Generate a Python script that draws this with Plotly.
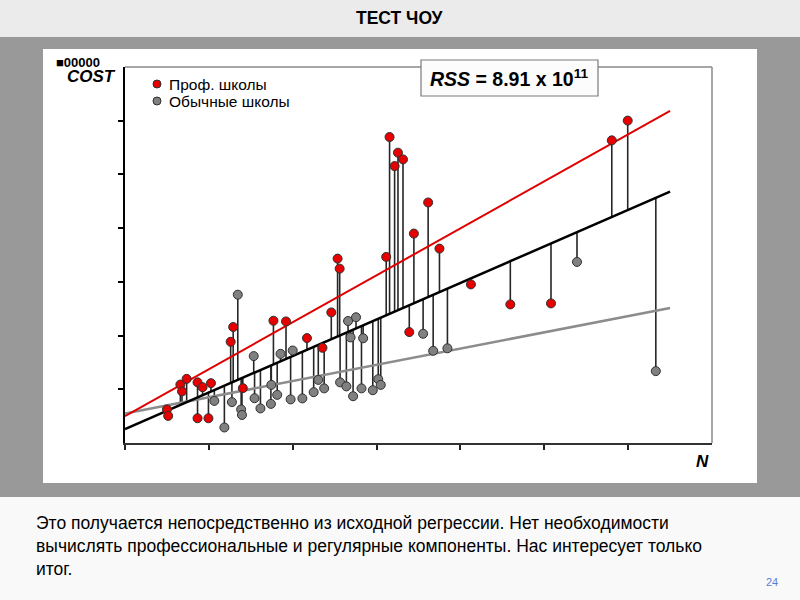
import plotly.graph_objects as go

# ---- data (N = number of students, COST) ----
prof_n = [100, 103, 132, 136, 147, 173, 185, 205, 173, 199, 252, 258, 281, 354, 384,
          434, 471, 492, 507, 512, 623, 631, 643, 651, 663, 678, 689, 723, 750, 825,
          919, 1016, 1161, 1199]
prof_cost = [62500, 50400, 108800, 96100, 119400, 112900, 103900, 111400, 46100, 46100,
             188400, 215900, 102100, 227600, 226300, 195300, 177200, 243100, 343300, 324600,
             346500, 569600, 515500, 540500, 528000, 206500, 389900, 447800, 361900, 295300,
             258000, 259900, 563400, 600200]

reg_n = [237, 213, 255, 269, 277, 279, 307, 309, 323, 348, 349, 363, 371, 395, 400,
         423, 450, 461, 475, 513, 528, 532, 551, 538, 544, 564, 568, 591, 604, 610,
         711, 735, 769, 1078, 1266]
reg_cost = [28900, 78400, 76100, 276100, 62500, 52200, 161800, 83400, 64400, 72800,
            108200, 89600, 166000, 81200, 172200, 83000, 94600, 117500, 101700, 112900,
            105400, 227100, 234100, 196600, 87100, 101700, 195000, 98300, 118800, 108200,
            203400, 171600, 176300, 337100, 133800]

# regression lines: (intercept, slope)
line_prof = (50000, 437.0)
line_reg = (55000, 151.0)
line_pool = (26000, 340.0)
line_n = [0, 1300]

x_ticks = [0, 200, 400, 600, 800, 1000, 1200]
y_ticks = [100000, 200000, 300000, 400000, 500000, 600000]

def fit(line, n):
    return [line[0] + line[1] * v for v in n]

# ---- residual segments to pooled line ----
seg_x, seg_y = [], []
for n, c in list(zip(prof_n, prof_cost)) + list(zip(reg_n, reg_cost)):
    seg_x += [n, n, None]
    seg_y += [c, line_pool[0] + line_pool[1] * n, None]

fig = go.Figure()
fig.add_trace(go.Scatter(x=seg_x, y=seg_y, mode="lines",
                         line=dict(color="#262626", width=1.6), showlegend=False, hoverinfo="skip"))
fig.add_trace(go.Scatter(x=line_n, y=fit(line_reg, line_n), mode="lines",
                         line=dict(color="#8c8c8c", width=2.5), showlegend=False))
fig.add_trace(go.Scatter(x=line_n, y=fit(line_pool, line_n), mode="lines",
                         line=dict(color="#000000", width=2.5), showlegend=False))
fig.add_trace(go.Scatter(x=line_n, y=fit(line_prof, line_n), mode="lines",
                         line=dict(color="#e00000", width=2), showlegend=False))
fig.add_trace(go.Scatter(x=reg_n, y=reg_cost, mode="markers", name="Обычные школы",
                         marker=dict(color="#808080", size=9, line=dict(color="#303030", width=1)),
                         showlegend=False))
fig.add_trace(go.Scatter(x=prof_n, y=prof_cost, mode="markers", name="Проф. школы",
                         marker=dict(color="#e60000", size=9, line=dict(color="#303030", width=1)),
                         showlegend=False))

# ---- pixel -> paper helpers for slide decoration ----
L, R, T, B = 125, 712, 67, 443
def px(x):
    return (x - L) / (R - L)
def py(y):
    return (B - y) / (B - T)

shapes = [
    dict(type="rect", xref="paper", yref="paper", x0=px(-5), x1=px(805), y0=py(-5), y1=py(37),
         fillcolor="#ebebeb", line=dict(width=0), layer="below"),
    dict(type="rect", xref="paper", yref="paper", x0=px(-5), x1=px(805), y0=py(497), y1=py(605),
         fillcolor="#f9f9f9", line=dict(width=0), layer="below"),
    dict(type="rect", xref="paper", yref="paper", x0=px(43), x1=px(757), y0=py(483), y1=py(49),
         fillcolor="#ffffff", line=dict(width=0), layer="below"),
    # top and right frame lines
    dict(type="line", xref="paper", yref="paper", x0=0, x1=1, y0=1, y1=1,
         line=dict(color="#8a8a8a", width=1.5), layer="above"),
    dict(type="line", xref="paper", yref="paper", x0=1, x1=1, y0=0, y1=1,
         line=dict(color="#8a8a8a", width=1.5), layer="above"),
    # RSS box
    dict(type="rect", xref="paper", yref="paper", x0=px(421), x1=px(598), y0=py(96), y1=py(60),
         fillcolor="#fcfcfc", line=dict(color="#7a7a7a", width=1.2), layer="above"),
    # legend dots
    dict(type="circle", xref="paper", yref="paper", x0=px(153), x1=px(161), y0=py(88), y1=py(80),
         fillcolor="#e60000", line=dict(color="#303030", width=1), layer="above"),
    dict(type="circle", xref="paper", yref="paper", x0=px(153), x1=px(161), y0=py(105), y1=py(97),
         fillcolor="#808080", line=dict(color="#303030", width=1), layer="above"),
]

FONT = "Liberation Sans, Arial, sans-serif"
ann = [
    dict(x=px(400), y=py(18), text="<b>ТЕСТ ЧОУ</b>", font=dict(size=17.5, color="#000", family=FONT)),
    dict(x=px(509), y=py(78), text="<b><i>RSS</i> = 8.91 x 10<sup>11</sup></b>",
         font=dict(size=19.5, color="#000", family=FONT)),
    dict(x=px(167), y=py(84), text="Проф. школы", xanchor="left",
         font=dict(size=15.5, color="#000", family=FONT)),
    dict(x=px(167), y=py(101), text="Обычные школы", xanchor="left",
         font=dict(size=15.5, color="#000", family=FONT)),
    dict(x=px(54), y=py(63), text="<b>■00000</b>", xanchor="left",
         font=dict(size=13, color="#000", family=FONT)),
    dict(x=px(65), y=py(77), text="<b><i>COST</i></b>", xanchor="left",
         font=dict(size=17, color="#000", family=FONT)),
    dict(x=px(702), y=py(461), text="<b><i>N</i></b>",
         font=dict(size=17, color="#000", family=FONT)),
    dict(x=px(34), y=py(546),
         text="Это получается непосредственно из исходной регрессии. Нет необходимости<br>"
              "вычислять профессиональные и регулярные компоненты. Нас интересует только<br>итог.",
         xanchor="left", align="left",
         font=dict(size=17.5, color="#000", family=FONT)),
    dict(x=px(772), y=py(582), text="24", font=dict(size=11, color="#5a7fd6", family=FONT)),
]
for a in ann:
    a.update(xref="paper", yref="paper", showarrow=False)
    a.setdefault("xanchor", "center")
    a.setdefault("yanchor", "middle")

fig.update_layout(
    width=800, height=600,
    margin=dict(l=L, r=800 - R, t=T, b=600 - B),
    paper_bgcolor="#999999", plot_bgcolor="#ffffff",
    shapes=shapes, annotations=ann, showlegend=False,
    xaxis=dict(range=[0, 1400], tickvals=x_ticks, ticks="outside", ticklen=5, tickwidth=1.5,
               tickcolor="#222", showticklabels=False, showgrid=False, zeroline=False,
               showline=True, linecolor="#333", linewidth=1.5),
    yaxis=dict(range=[0, 700000], tickvals=y_ticks, ticks="outside", ticklen=5, tickwidth=1.5,
               tickcolor="#000", showticklabels=False, showgrid=False, zeroline=False,
               showline=True, linecolor="#000", linewidth=2),
)

fig.write_html("out.html", config={"displayModeBar": False},
               post_script="document.body.style.margin='0';document.body.style.overflow='hidden';")
